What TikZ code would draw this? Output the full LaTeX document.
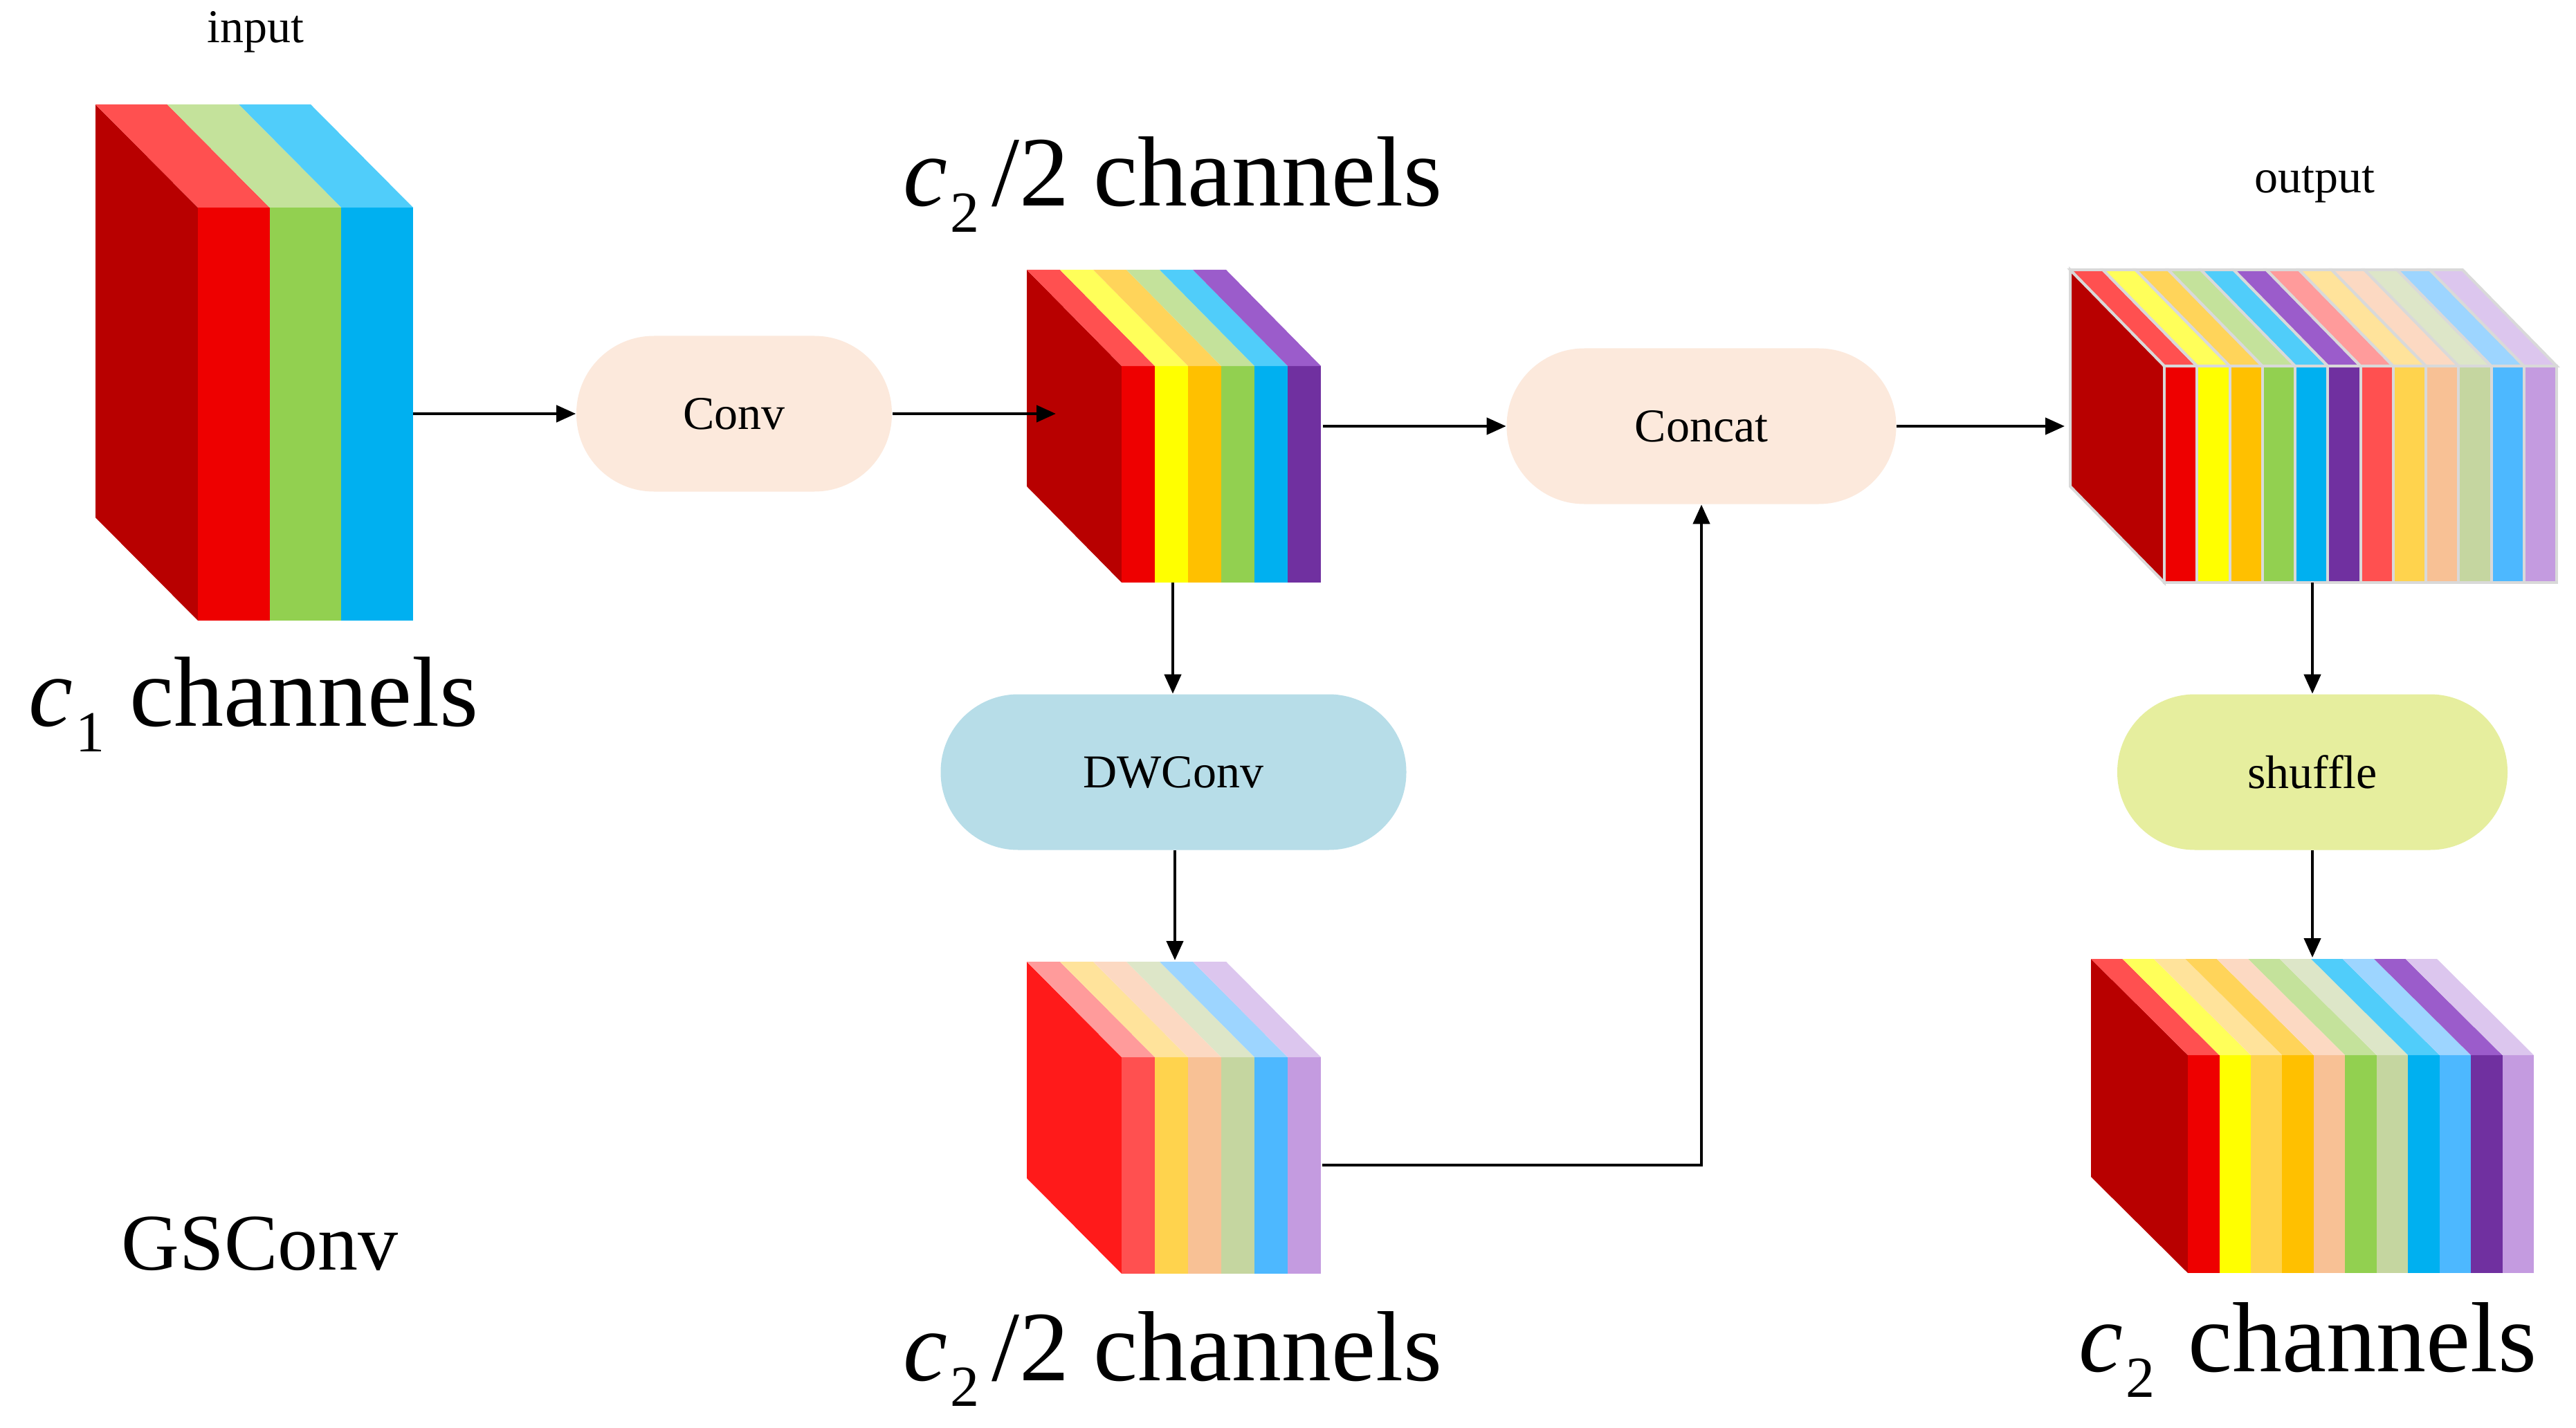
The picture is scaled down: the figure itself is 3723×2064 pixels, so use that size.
\documentclass[tikz,border=0pt]{standalone}
\usepackage{fontspec}
\setmainfont{Liberation Serif}
\usetikzlibrary{arrows.meta}
\definecolor{kDk}{HTML}{B80000}
\definecolor{kDk2}{HTML}{FF1A1A}
\definecolor{kRd}{HTML}{EE0000}\definecolor{kRdT}{HTML}{FF5050}
\definecolor{kYe}{HTML}{FFFF00}\definecolor{kYeT}{HTML}{FFFF5A}
\definecolor{kOr}{HTML}{FFC000}\definecolor{kOrT}{HTML}{FFD45A}
\definecolor{kGr}{HTML}{92D050}\definecolor{kGrT}{HTML}{C4E29B}
\definecolor{kBl}{HTML}{00B0F0}\definecolor{kBlT}{HTML}{50CDFA}
\definecolor{kPu}{HTML}{7030A0}\definecolor{kPuT}{HTML}{9B5CCB}
\definecolor{kLr}{HTML}{FF5050}\definecolor{kLrT}{HTML}{FF9B9B}
\definecolor{kLo}{HTML}{FFD34D}\definecolor{kLoT}{HTML}{FFE39B}
\definecolor{kPe}{HTML}{F8C195}\definecolor{kPeT}{HTML}{FCD9C2}
\definecolor{kSg}{HTML}{C5D6A0}\definecolor{kSgT}{HTML}{DDE6C8}
\definecolor{kLb}{HTML}{4DB8FF}\definecolor{kLbT}{HTML}{9DD5FF}
\definecolor{kLp}{HTML}{C49BE0}\definecolor{kLpT}{HTML}{DCC6EE}
\definecolor{kGry}{HTML}{D9D9D9}
\definecolor{kPeach}{HTML}{FCE9DC}
\definecolor{kCyan}{HTML}{B7DDE8}
\definecolor{kLime}{HTML}{E6EE9E}
% #1 front-left x, #2 stripe width, #3 front top y, #4 front bottom y, #5 dx, #6 dy, #7 side colour, #8 list front/top, #9 extra style
\newcommand{\drawblock}[9]{%
  \path[fill=#7,#9] (#1,#3) -- (#1-#5,#3-#6) -- (#1-#5,#4-#6) -- (#1,#4) -- cycle;
  \foreach \fc/\tc [count=\i from 0] in {#8} {
    \pgfmathsetmacro{\xa}{#1+\i*#2}
    \pgfmathsetmacro{\xb}{#1+(\i+1)*#2}
    \path[fill=\fc,#9] (\xa,#3) rectangle (\xb,#4);
    \path[fill=\tc,#9] (\xa,#3) -- (\xb,#3) -- (\xb-#5,#3-#6) -- (\xa-#5,#3-#6) -- cycle;
  }}
\newcommand{\subsz}{\fontsize{21}{21}\selectfont}
\begin{document}
\begin{tikzpicture}[x=0.25pt,y=-0.25pt,
  arr/.style={line width=1.1pt,-{Triangle[length=7pt,width=6pt]}},
  op/.style={rectangle,rounded corners=28pt,minimum height=56.25pt,inner sep=0pt,
    font=\fontsize{17}{20}\selectfont},
  big/.style={inner sep=0pt,font=\fontsize{36}{40}\selectfont},
  small/.style={inner sep=0pt,font=\fontsize{17}{20}\selectfont}]
\useasboundingbox (0,0) rectangle (3723,2064);
\fill[white] (0,0) rectangle (3723,2064);

% blocks
\drawblock{286}{103.67}{300}{897}{148}{149}{kDk}{kRd/kRdT,kGr/kGrT,kBl/kBlT}{};
\drawblock{1621}{48}{529}{842}{137}{139}{kDk}{kRd/kRdT,kYe/kYeT,kOr/kOrT,kGr/kGrT,kBl/kBlT,kPu/kPuT}{};
\drawblock{1621}{48}{1528}{1841}{137}{138}{kDk2}{kLr/kLrT,kLo/kLoT,kPe/kPeT,kSg/kSgT,kLb/kLbT,kLp/kLpT}{};
\drawblock{3128}{47.25}{529}{842}{136}{139}{kDk}{kRd/kRdT,kYe/kYeT,kOr/kOrT,kGr/kGrT,kBl/kBlT,kPu/kPuT,kLr/kLrT,kLo/kLoT,kPe/kPeT,kSg/kSgT,kLb/kLbT,kLp/kLpT}{draw=kGry,line width=1pt};
\drawblock{3162}{45.45}{1525}{1840}{140}{139}{kDk}{kRd/kRdT,kYe/kYeT,kLo/kLoT,kOr/kOrT,kPe/kPeT,kGr/kGrT,kSg/kSgT,kBl/kBlT,kLb/kLbT,kPu/kPuT,kLp/kLpT}{};

% connection points on the blocks
\coordinate (inR) at (597,598);
\coordinate (midL) at (1526,598);
\coordinate (midR) at (1912,616);
\coordinate (midB) at (1695,842);
\coordinate (botT) at (1698,1388);
\coordinate (botR) at (1911,1684);
\coordinate (outL) at (2984,616);
\coordinate (outB) at (3342,842);
\coordinate (brT) at (3342,1384);

% operation nodes
\node[op,fill=kPeach,minimum width=114pt] (conv) at (1061,598) {Conv};
\node[op,fill=kPeach,minimum width=140.75pt] (concat) at (2459,616) {Concat};
\node[op,fill=kCyan,minimum width=168.25pt] (dw) at (1696,1116) {DWConv};
\node[op,fill=kLime,minimum width=141pt] (shuf) at (3342,1116) {shuffle};

% connectors
\draw[arr] (inR) -- (conv.west);
\draw[arr] (conv.east) -- (midL);
\draw[arr] (midR) -- (concat.west);
\draw[arr] (concat.east) -- (outL);
\draw[arr] (midB) -- (midB |- dw.north);
\draw[arr] (botT |- dw.south) -- (botT);
\draw[arr] (botR) -- (concat.south |- botR) -- (concat.south);
\draw[arr] (outB) -- (outB |- shuf.north);
\draw[arr] (shuf.south) -- (brT);

% labels
\node[small,anchor=base] (lin) at (369,62) {input};
\node[small,anchor=base] (lout) at (3345,279) {output};
\node[big,anchor=base west] (lc1) at (41,1049) {\textit{c}\kern1pt\raisebox{-0.26em}{\subsz 1}\hspace{0.25em}channels};
\node[big,anchor=base west] (lc2a) at (1305,298) {\textit{c}\kern1pt\raisebox{-0.26em}{\subsz 2}\kern0.12em/2 channels};
\node[big,anchor=base west] (lc2b) at (1305,1995) {\textit{c}\kern1pt\raisebox{-0.26em}{\subsz 2}\kern0.12em/2 channels};
\node[big,anchor=base west] (lc2) at (3004,1982) {\textit{c}\kern1pt\raisebox{-0.26em}{\subsz 2}\hspace{0.33em}channels};
\node[inner sep=0pt,anchor=base west,font=\fontsize{29}{33}\selectfont] (lgs) at (175,1835) {GSConv};
\end{tikzpicture}
\end{document}
